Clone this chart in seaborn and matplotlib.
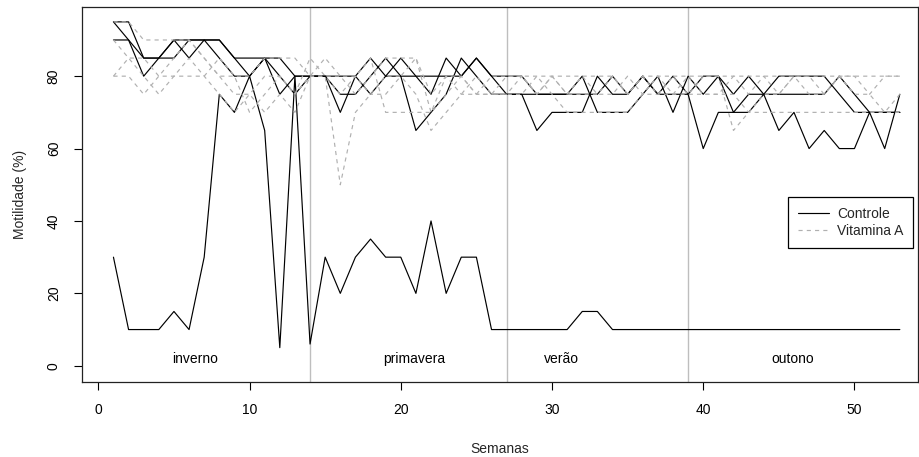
import matplotlib
matplotlib.use("Agg")
import matplotlib.pyplot as plt
from matplotlib.lines import Line2D
import seaborn as sns
import pandas as pd
import numpy as np

# ---------------- data ----------------
weeks = list(range(1, 54))

controle_1 = [30, 10, 10, 10, 15, 10, 30,
              75, 70, 80, 65, 5, 80, 6,
              30, 20, 30, 35, 30, 30, 20, 40, 20, 30, 30, 10, 10,
              10, 10, 10, 10, 15, 15, 10, 10, 10, 10, 10, 10,
              10, 10, 10, 10, 10, 10, 10, 10, 10, 10, 10, 10, 10, 10]
controle_2 = [95, 90, 80, 85, 90, 90, 90, 85, 80, 80, 85, 75, 80, 80,
              80, 70, 80, 85, 80, 80, 65, 70, 75, 85, 80, 75, 75,
              75, 65, 70, 70, 70, 80, 75, 75, 80, 75, 75, 75,
              60, 70, 70, 70, 75, 65, 70, 60, 65, 60, 60, 70, 60, 75]
controle_3 = [90, 90, 85, 85, 90, 85, 90, 90, 85, 80, 85, 85, 80, 80,
              80, 75, 75, 80, 85, 80, 80, 75, 85, 80, 85, 80, 75,
              75, 75, 75, 75, 80, 70, 70, 70, 75, 80, 70, 80,
              75, 80, 75, 80, 75, 75, 75, 75, 75, 80, 75, 70, 70, 70]
controle_4 = [95, 95, 85, 85, 85, 90, 90, 90, 85, 85, 85, 80, 75, 80,
              80, 80, 80, 75, 80, 85, 80, 80, 80, 80, 85, 80, 80,
              80, 75, 75, 75, 75, 75, 80, 75, 80, 75, 80, 75,
              80, 80, 70, 75, 75, 80, 80, 80, 80, 75, 70, 70, 70, 70]

vitamina_1 = [95, 95, 90, 90, 90, 90, 85, 80, 80, 80, 85, 85, 85, 80,
              85, 80, 75, 80, 85, 85, 85, 75, 80, 80, 75, 75, 80,
              80, 80, 80, 80, 80, 80, 80, 75, 80, 80, 80, 80,
              80, 80, 80, 80, 80, 80, 80, 80, 80, 80, 80, 80, 80, 80]
vitamina_2 = [80, 80, 75, 80, 85, 90, 85, 80, 75, 75, 80, 80, 75, 80,
              80, 50, 70, 75, 80, 80, 75, 65, 70, 75, 80, 75, 75,
              80, 75, 80, 75, 75, 75, 80, 75, 80, 75, 80, 75,
              80, 80, 65, 70, 75, 75, 80, 75, 75, 80, 75, 75, 70, 75]
vitamina_3 = [80, 85, 80, 75, 80, 85, 80, 75, 70, 75, 70, 75, 70, 80,
              80, 80, 80, 85, 70, 70, 70, 70, 75, 80, 75, 75, 75,
              75, 80, 75, 70, 70, 70, 70, 70, 75, 75, 75, 75,
              75, 75, 75, 70, 70, 70, 70, 70, 70, 70, 70, 70, 70, 70]
vitamina_4 = [90, 85, 85, 80, 80, 80, 80, 85, 80, 70, 75, 80, 75, 85,
              80, 75, 80, 75, 75, 80, 85, 70, 80, 75, 75, 80, 80,
              80, 75, 80, 75, 80, 75, 75, 80, 75, 80, 75, 80,
              75, 75, 80, 75, 80, 75, 80, 80, 75, 80, 80, 75, 80, 80]

groups = ["Controle", "Vitamina A"]
season_breaks = [14, 27, 39]
season_names = ["inverno", "primavera", "verão", "outono"]
season_label_x = [6.4, 20.9, 30.6, 45.9]
season_label_y = 2

series = {
    ("Controle", "c1"): controle_1,
    ("Controle", "c2"): controle_2,
    ("Controle", "c3"): controle_3,
    ("Controle", "c4"): controle_4,
    ("Vitamina A", "v1"): vitamina_1,
    ("Vitamina A", "v2"): vitamina_2,
    ("Vitamina A", "v3"): vitamina_3,
    ("Vitamina A", "v4"): vitamina_4,
}
rows = []
for (g, a), vals in series.items():
    for w, v in zip(weeks, vals):
        rows.append({"Semanas": w, "Motilidade": v, "grupo": g, "animal": a})
df = pd.DataFrame(rows)

# ---------------- plot ----------------
sns.set_theme(style="white")
plt.rcParams["font.family"] = ["Liberation Sans", "DejaVu Sans"]
plt.rcParams["font.size"] = 10

fig = plt.figure(figsize=(9.2, 4.57), dpi=100)
ax = fig.add_axes([0.0888, 0.1648, 0.9090, 0.8206])

black = "#000000"
gray = "#b0b0b0"
lw = 0.85

for x in season_breaks:
    ax.axvline(x, color="#bebebe", lw=1.0, zorder=1)

sns.lineplot(data=df, x="Semanas", y="Motilidade", hue="grupo", style="grupo",
             units="animal", estimator=None, hue_order=groups, style_order=groups,
             palette={"Controle": black, "Vitamina A": gray},
             dashes={"Controle": "", "Vitamina A": (3.5, 3.5)},
             linewidth=lw, legend=False, ax=ax, zorder=2)

for name, x in zip(season_names, season_label_x):
    ax.text(x, season_label_y, name, ha="center", va="center", fontsize=10, color="black")

ax.set_xlim(-1.1, 54.2)
ax.set_ylim(-4.4, 99.2)
ax.set_xticks([0, 10, 20, 30, 40, 50])
ax.set_yticks([0, 20, 40, 60, 80])
ax.set_yticklabels(["0", "20", "40", "60", "80"], rotation=90, va="center")
ax.tick_params(axis="both", direction="out", length=6, width=0.8, colors="black",
               labelsize=10, pad=9, bottom=True, left=True)
for s in ax.spines.values():
    s.set_color("#222222")
    s.set_linewidth(0.9)

ax.set_xlabel("Semanas", fontsize=10, labelpad=18)
ax.set_ylabel("Motilidade (%)", fontsize=10, labelpad=14)

handles = [Line2D([0], [0], color=black, lw=lw),
           Line2D([0], [0], color=gray, lw=lw, linestyle=(0, (3.5, 3.5)))]
leg = ax.legend(handles, groups, loc="upper right", bbox_to_anchor=(0.994, 0.4925),
                frameon=True, fancybox=False, shadow=False, framealpha=1,
                edgecolor="black", fontsize=10, handlelength=2.2, handletextpad=0.6,
                borderpad=0.7, labelspacing=0.25, borderaxespad=0)
leg.get_frame().set_linewidth(0.9)

fig.savefig("out.png", dpi=100)
